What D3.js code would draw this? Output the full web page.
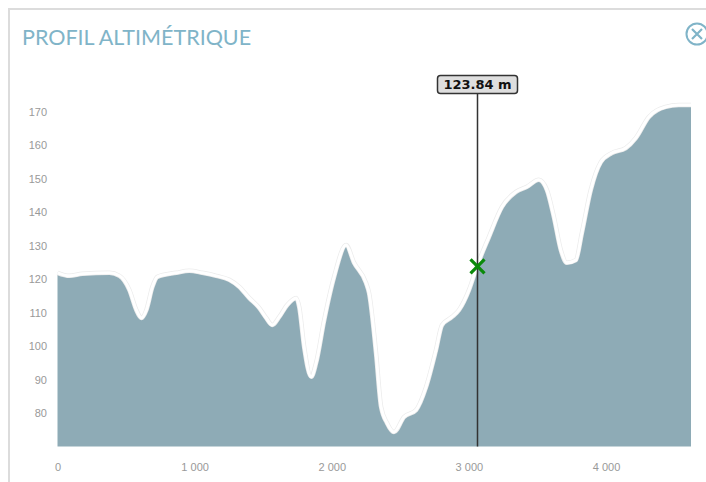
<!DOCTYPE html>
<html>
<head>
<meta charset="utf-8">
<script src="https://cdn.jsdelivr.net/npm/d3@7"></script>
<style>
  body { margin: 0; background: #fff; }
  svg { display: block; }
</style>
</head>
<body>
<div id="chart-area"></div>
<script>
// profile distances (m) and elevations (m)
var distances = [0, 87, 182, 379, 452, 524, 575, 612, 648, 692, 728, 867, 961, 1056, 1158, 1253, 1326, 1398, 1471, 1522, 1566, 1617, 1675, 1741, 1763, 1799, 1850, 1886, 1945, 2017, 2105, 2163, 2250, 2272, 2323, 2360, 2403, 2454, 2527, 2615, 2688, 2760, 2804, 2877, 2928, 3001, 3059, 3146, 3241, 3343, 3423, 3510, 3569, 3620, 3671, 3714, 3780, 3824, 3889, 3962, 4042, 4144, 4217, 4312, 4435, 4530, 4620];
var elevations = [121.9, 121.0, 121.6, 121.9, 121.0, 116.8, 110.8, 108.4, 110.8, 117.7, 120.7, 121.9, 122.5, 121.9, 121.0, 119.8, 117.7, 114.4, 111.4, 108.4, 106.3, 108.7, 112.3, 114.4, 111.7, 99.7, 90.8, 95.0, 107.8, 120.7, 130.2, 124.9, 118.9, 115.9, 97.9, 81.8, 77.0, 74.3, 78.8, 80.9, 87.8, 98.8, 106.3, 108.7, 110.8, 116.8, 123.84, 132.6, 141.6, 146.1, 147.6, 149.7, 146.7, 138.6, 128.7, 124.9, 125.7, 133.8, 146.7, 155.0, 157.7, 159.2, 162.2, 168.5, 171.5, 172.1, 172.1];

var yTicks = [80, 90, 100, 110, 120, 130, 140, 150, 160, 170];
var xTicks = [0, 1000, 2000, 3000, 4000];

var markerDist = 3059;
var markerElev = 123.84;

var W = 706, H = 482;

var svg = d3.select("#chart-area").append("svg")
    .attr("width", W)
    .attr("height", H);

// panel border
svg.append("line")
    .attr("x1", 8).attr("y1", 9).attr("x2", W).attr("y2", 9)
    .attr("stroke", "#dcdcdc").attr("stroke-width", 2);
svg.append("line")
    .attr("x1", 9).attr("y1", 8).attr("x2", 9).attr("y2", H)
    .attr("stroke", "#dcdcdc").attr("stroke-width", 2);

svg.append("text")
    .attr("x", 22)
    .attr("y", 44.5)
    .attr("font-family", "Lato")
    .attr("font-size", "21.5px")
    .attr("fill", "#80b4c8")
    .text("PROFIL ALTIMÉTRIQUE");

// close icon
var close = svg.append("g").attr("transform", "translate(697, 34)");
close.append("circle")
    .attr("r", 10.5)
    .attr("fill", "none")
    .attr("stroke", "#80b4c8")
    .attr("stroke-width", 2);
close.append("path")
    .attr("d", "M-5,-5L5,5M5,-5L-5,5")
    .attr("stroke", "#80b4c8")
    .attr("stroke-width", 2.2);

var x = d3.scaleLinear()
    .domain([0, 4620])
    .range([57.5, 691]);

var y = d3.scaleLinear()
    .domain([70, 180])
    .range([446.4, 78.5]);

var data = distances.map((d, i) => { return { d: d, e: elevations[i] }; });

var area = d3.area()
    .x((p) => { return x(p.d); })
    .y0(y(70))
    .y1((p) => { return y(p.e); })
    .curve(d3.curveMonotoneX);

var line = d3.line()
    .x((p) => { return x(p.d); })
    .y((p) => { return y(p.e); })
    .curve(d3.curveMonotoneX);

svg.append("path")
    .datum(data)
    .attr("d", area)
    .attr("fill", "#8eabb6");

svg.append("path")
    .datum(data)
    .attr("d", line)
    .attr("fill", "none")
    .attr("stroke", "#ececec")
    .attr("stroke-width", 4.5);

svg.append("path")
    .datum(data)
    .attr("d", line)
    .attr("fill", "none")
    .attr("stroke", "#ffffff")
    .attr("stroke-width", 3);

// axes
var leftAxis = d3.axisLeft(y)
    .tickValues(yTicks)
    .tickSize(0)
    .tickPadding(0);

var gy = svg.append("g")
    .attr("class", "left axis")
    .attr("transform", "translate(47, 0)")
    .call(leftAxis);
gy.select(".domain").remove();
gy.selectAll("text")
    .attr("font-family", "Liberation Sans, Arial")
    .attr("font-size", "11px")
    .attr("fill", "#999");

var bottomAxis = d3.axisBottom(x)
    .tickValues(xTicks)
    .tickSize(0)
    .tickPadding(0)
    .tickFormat((d) => { return d3.format(",")(d).replace(/,/g, " "); });

var gx = svg.append("g")
    .attr("class", "bottom axis")
    .attr("transform", "translate(0, 463)")
    .call(bottomAxis);
gx.select(".domain").remove();
gx.selectAll("text")
    .attr("font-family", "Liberation Sans, Arial")
    .attr("font-size", "11px")
    .attr("fill", "#999");

// cursor
var mx = Math.round(x(markerDist)) + 0.5;
svg.append("line")
    .attr("x1", mx).attr("x2", mx)
    .attr("y1", 93).attr("y2", y(70))
    .attr("stroke", "#333")
    .attr("stroke-width", 1.5);

var label = svg.append("g").attr("transform", "translate(" + mx + ", 0)");
label.append("rect")
    .attr("x", -40).attr("y", 75.5)
    .attr("width", 80).attr("height", 18)
    .attr("rx", 3)
    .attr("fill", "#dedede")
    .attr("stroke", "#333")
    .attr("stroke-width", 1.5);
label.append("text")
    .attr("x", 0).attr("y", 89)
    .attr("text-anchor", "middle")
    .attr("font-family", "DejaVu Sans")
    .attr("font-weight", "bold")
    .attr("font-size", "13px")
    .attr("fill", "#111")
    .text(markerElev.toFixed(2) + " m");

var my = y(markerElev);
svg.append("path")
    .attr("d", "M" + (mx - 7) + "," + (my - 7) + "L" + (mx + 7) + "," + (my + 7) +
               "M" + (mx + 7) + "," + (my - 7) + "L" + (mx - 7) + "," + (my + 7))
    .attr("stroke", "#0a8a0a")
    .attr("stroke-width", 3.2);
</script>
</body>
</html>
